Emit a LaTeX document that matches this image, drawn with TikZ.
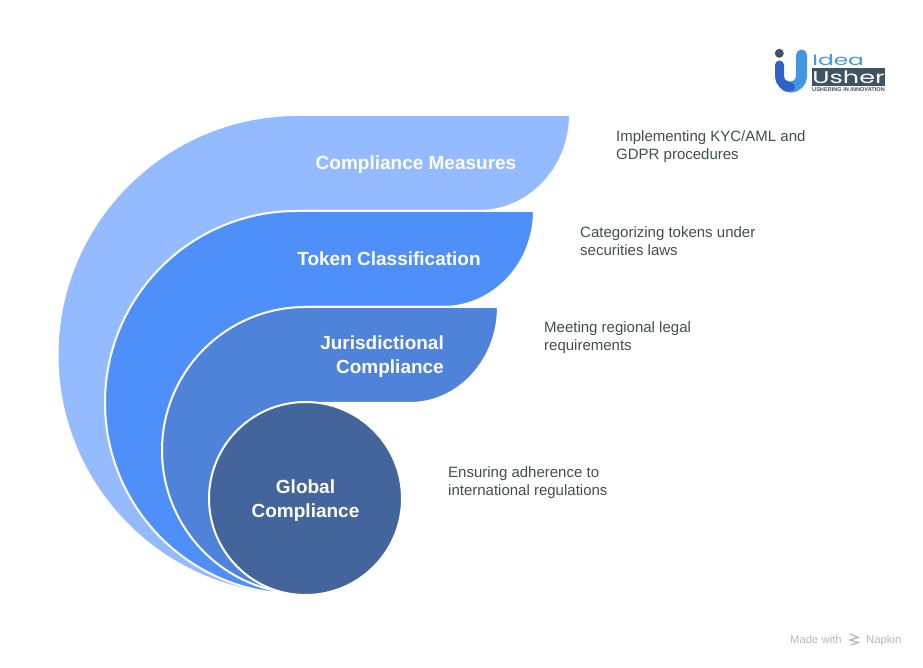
\documentclass[tikz,border=0pt]{standalone}
\usepackage{fontspec}
\setmainfont{Liberation Sans}
\newfontfamily\logofont{Poppins}
\definecolor{measurescol}{HTML}{94BBFF}
\definecolor{tokencol}{HTML}{4F8FF9}
\definecolor{jurcol}{HTML}{4F82D9}
\definecolor{globalcol}{HTML}{43659C}
\definecolor{desccol}{HTML}{434D50}
\definecolor{logoblue}{HTML}{4496E0}
\definecolor{logoinner}{HTML}{2F62C8}
\definecolor{logodark}{HTML}{3F5364}
\tikzset{
    band/.style={draw=white, line width=2pt, line join=round},
    title/.style={text=white, font=\fontsize{19}{24}\selectfont\bfseries, inner sep=0pt},
    desc/.style={text=desccol, font=\fontsize{15}{18}\selectfont, align=left, anchor=west, inner sep=0pt},
    madewith/.style={text=black!28, font=\fontsize{11.3}{14}\selectfont, inner sep=0pt, anchor=base west}
}
\begin{document}
\begin{tikzpicture}[x=1pt, y=1pt]
    \useasboundingbox (0,0) rectangle (923,667);
    % bands, back to front
    \draw[band, fill=measurescol] (570,552) -- (297.5,552) arc[start angle=90, end angle=264, radius=240]
        -- (305,200) -- (305,456) -- (479,456) arc[start angle=-90, end angle=0, x radius=91, y radius=96] -- cycle;
    \draw[band, fill=tokencol] (534,456) -- (296.5,456) arc[start angle=90, end angle=262.6, radius=191.5]
        -- (305,200) -- (305,360) -- (443,360) arc[start angle=-90, end angle=0, x radius=91, y radius=96] -- cycle;
    \draw[band, fill=jurcol] (498,360) -- (305.5,360) arc[start angle=90, end angle=256.5, radius=143.5]
        -- (305.5,169) -- (305.5,264) -- (410,264) arc[start angle=-90, end angle=0, x radius=88, y radius=96] -- cycle;
    \draw[band, fill=globalcol] (305.5,168.5) circle[radius=96.5];
    \node[title] (measures) at (416,502) {Compliance Measures};
    \node[title] (token) at (389,408) {Token Classification};
    \node[title, align=right, anchor=east] (jur) at (444,310) {Jurisdictional\\Compliance};
    \node[title, align=center] (global) at (305.5,166) {Global\\Compliance};
    \node[desc] (measuresdesc) at (616,520) {Implementing KYC/AML and\\GDPR procedures};
    \node[desc] (tokendesc) at (580,426) {Categorizing tokens under\\securities laws};
    \node[desc] (jurdesc) at (544,329) {Meeting regional legal\\requirements};
    \node[desc] (globaldesc) at (448,184) {Ensuring adherence to\\international regulations};
    % logo
    \fill[logodark] (779.3,613.7) circle[radius=4.5];
    \draw[logoblue, line width=11pt, line cap=round] (801.5,612) -- (801.5,591) arc[start angle=0, end angle=-120, radius=11];
    \draw[logoinner, line width=9pt, line cap=round] (779.5,602) -- (779.5,591) arc[start angle=180, end angle=270, radius=11];
    \fill[logodark] (812,581) rectangle (885,599);
    \node[inner sep=0pt, text=logoblue, font=\logofont\fontsize{15}{15}\selectfont, xscale=1.55, anchor=west] (logoidea) at (812,607) {Idea};
    \node[inner sep=0pt, text=white, font=\logofont\fontsize{17}{17}\selectfont, xscale=1.5] (logousher) at (848.5,590) {Usher};
    \node[inner sep=0pt, text=logodark, font=\fontsize{5.6}{6}\selectfont\bfseries] (logotag) at (848.5,577) {USHERING IN INNOVATION};
    % footer
    \node[madewith] (made) at (790,24) {Made with};
    \node[madewith] (napkin) at (866,24) {Napkin};
    \draw[black!28, line width=1.3pt] (850,33) -- (858,29.5) -- (850,27) -- (858,24.5) -- (851,22);
\end{tikzpicture}
\end{document}
